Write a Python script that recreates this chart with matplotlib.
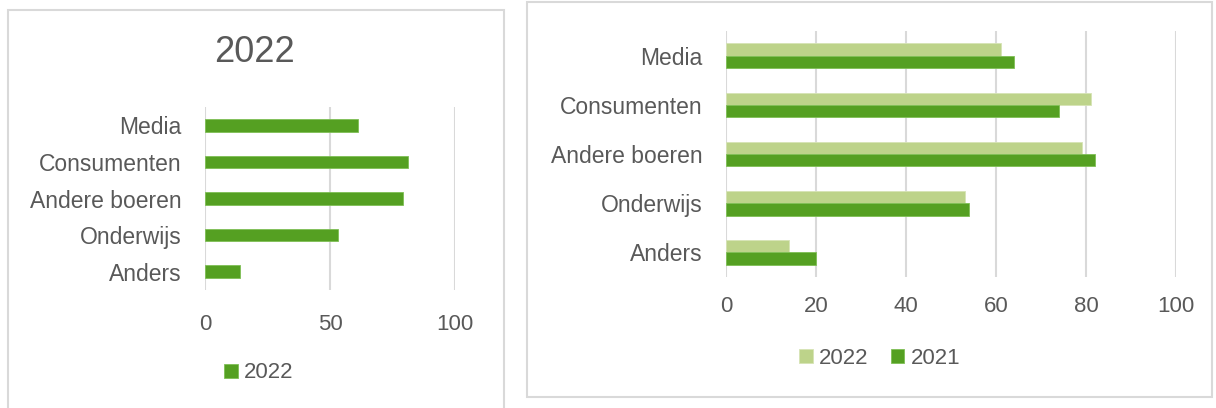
import matplotlib.pyplot as plt
from matplotlib.patches import Rectangle

categories = ["Media", "Consumenten", "Andere boeren", "Onderwijs", "Anders"]
values_2022 = [61, 81, 79, 53, 14]
values_2021 = [64, 74, 82, 54, 20]

dark_green = "#55A022"
light_green = "#BDD38A"
grid_color = "#D9D9D9"
text_color = "#595959"

plt.rcParams['font.family'] = ['Liberation Sans', 'DejaVu Sans']
plt.rcParams['text.color'] = text_color

W, H = 1216, 408
fig = plt.figure(figsize=(W / 100, H / 100), dpi=100)


def px_axes(x0, y0, x1, y1):
    # pixel box (top-down image coords) -> figure axes
    return fig.add_axes([x0 / W, 1 - y1 / H, (x1 - x0) / W, (y1 - y0) / H])


def style(ax, ticks, xpad):
    ax.set_xlim(0, 100)
    ax.set_ylim(-0.5, len(categories) - 0.5)
    ax.invert_yaxis()
    ax.set_xticks(ticks)
    ax.set_yticks(range(len(categories)))
    ax.set_yticklabels(categories)
    for s in ax.spines.values():
        s.set_visible(False)
    ax.grid(axis='x', color=grid_color, linewidth=1.5)
    ax.set_axisbelow(True)
    ax.tick_params(axis='y', length=0, pad=17, labelsize=16.5, labelcolor=text_color)
    ax.tick_params(axis='x', length=0, pad=xpad, labelsize=16, labelcolor=text_color)


# panel borders
fig.patches.append(Rectangle((7.5 / W, -0.05), 496 / W, 1.05 - 10 / H, transform=fig.transFigure,
                             fill=False, edgecolor=grid_color, linewidth=1.5))
fig.patches.append(Rectangle((527 / W, 1 - 397 / H), 685 / W, 395 / H, transform=fig.transFigure,
                             fill=False, edgecolor=grid_color, linewidth=1.5))

# left chart
ax1 = px_axes(205, 107, 455, 290)
y = list(range(len(categories)))
ax1.barh(y, values_2022, height=0.34, color=dark_green, edgecolor="#7FBF55", linewidth=0.6, label="2022")
style(ax1, [0, 50, 100], 17)
fig.text(255 / W, 1 - 52 / H, "2022", ha='center', va='center', fontsize=26, color=text_color)
fig.legend(handles=ax1.patches[:1], labels=["2022"], loc='center', bbox_to_anchor=(259 / W, 1 - 373 / H),
           frameon=False, fontsize=16, handlelength=0.6, handleheight=0.6, handletextpad=0.3,
           borderpad=0, labelcolor=text_color)

# right chart
ax2 = px_axes(726, 31, 1176, 277)
b1 = ax2.barh([i - 0.125 for i in y], values_2022, height=0.25, color=light_green,
              edgecolor="#D6E4B5", linewidth=0.6, label="2022")
b2 = ax2.barh([i + 0.125 for i in y], values_2021, height=0.25, color=dark_green,
              edgecolor="#7FBF55", linewidth=0.6, label="2021")
style(ax2, [0, 20, 40, 60, 80, 100], 14)
fig.legend(handles=[b1, b2], labels=["2022", "2021"], loc='center', bbox_to_anchor=(880 / W, 1 - 358 / H),
           ncol=2, frameon=False, fontsize=16, handlelength=0.6, handleheight=0.6, handletextpad=0.3,
           columnspacing=1.0, borderpad=0, labelcolor=text_color)

fig.savefig("out.png", dpi=100)
